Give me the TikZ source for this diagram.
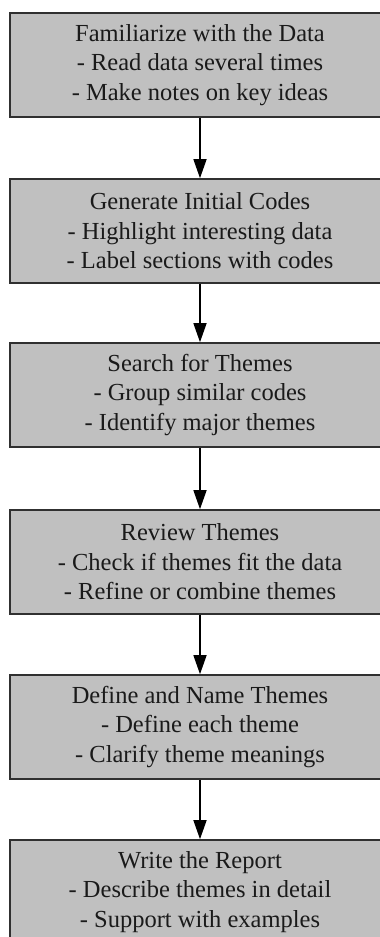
\documentclass[tikz,border=0pt]{standalone}
\usepackage{fontspec}
\setmainfont{Liberation Serif}
\usetikzlibrary{arrows.meta}
\definecolor{boxfill}{HTML}{C0C0C0}
\definecolor{boxline}{HTML}{303030}
\definecolor{inktext}{HTML}{1A1A1A}
\begin{document}
\begin{tikzpicture}[x=1pt,y=-1pt,
  stage/.style={rectangle, draw=boxline, line width=1.6pt, fill=boxfill,
    minimum width=380pt, minimum height=104pt, inner sep=0pt,
    align=center, text=inktext, font=\fontsize{24.5}{29.5}\selectfont},
  flow/.style={line width=1.4pt, draw=black,
    -{Triangle[length=19pt,width=13pt]}}]
\useasboundingbox (0,0) rectangle (380,937);
\clip (0,0) rectangle (380,937);
\fill[white] (0,0) rectangle (380,937);
% six stages of the analysis, top to bottom
\node[stage] (s1) at (200,65)  {Familiarize with the Data\\- Read data several times\\- Make notes on key ideas};
\node[stage] (s2) at (200,231) {Generate Initial Codes\\- Highlight interesting data\\- Label sections with codes};
\node[stage] (s3) at (200,395) {Search for Themes\\- Group similar codes\\- Identify major themes};
\node[stage] (s4) at (200,562) {Review Themes\\- Check if themes fit the data\\- Refine or combine themes};
\node[stage] (s5) at (200,727) {Define and Name Themes\\- Define each theme\\- Clarify theme meanings};
\node[stage] (s6) at (200,892) {Write the Report\\- Describe themes in detail\\- Support with examples};
% connectors between consecutive stages
\draw[flow] (s1) -- (s2);
\draw[flow] (s2) -- (s3);
\draw[flow] (s3) -- (s4);
\draw[flow] (s4) -- (s5);
\draw[flow] (s5) -- (s6);
\end{tikzpicture}
\end{document}
